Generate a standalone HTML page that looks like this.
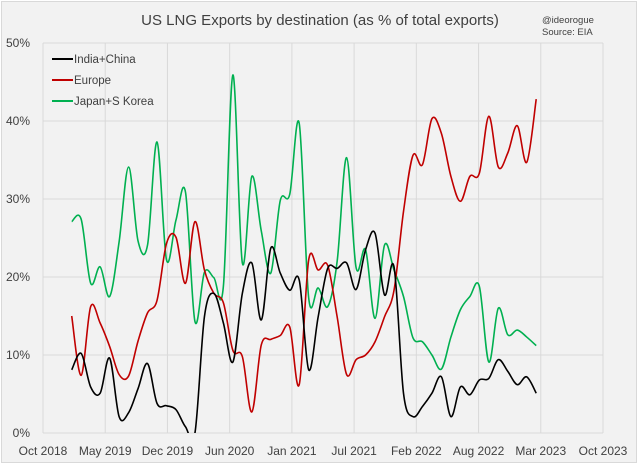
<!DOCTYPE html>
<html><head><meta charset="utf-8"><style>
body{margin:0;background:#fff;font-family:"Liberation Sans",Calibri,sans-serif}
svg text{font-family:"Liberation Sans",sans-serif}
</style></head><body>
<svg width="640" height="468" xmlns="http://www.w3.org/2000/svg">
<defs><clipPath id="plotclip"><rect x="43" y="40" width="560" height="393"/></clipPath></defs>
<rect x="1.5" y="1.5" width="635" height="461" fill="#f2f2f2" stroke="#d9d9d9"/>
<text x="320" y="25" text-anchor="middle" font-size="15" fill="#404040">US LNG Exports by destination (as % of total exports)</text>
<text x="542" y="23" font-size="9.5" fill="#404040">@ideorogue</text>
<text x="542" y="35" font-size="9.5" fill="#404040">Source: EIA</text>
<g id="grid"></g><g id="axes"></g><g id="series" clip-path="url(#plotclip)"></g>
<g>
<line x1="52" y1="59" x2="73" y2="59" stroke="#000" stroke-width="2"/><text x="74" y="63" font-size="11.5" fill="#404040">India+China</text>
<line x1="52" y1="80" x2="73" y2="80" stroke="#c00000" stroke-width="2"/><text x="74" y="84" font-size="11.5" fill="#404040">Europe</text>
<line x1="52" y1="101" x2="73" y2="101" stroke="#00b050" stroke-width="2"/><text x="74" y="105" font-size="11.5" fill="#404040">Japan+S Korea</text>
</g>
</svg>
<script>
const xLabels=["Oct 2018","May 2019","Dec 2019","Jun 2020","Jan 2021","Jul 2021","Feb 2022","Aug 2022","Mar 2023","Oct 2023"];
const yTicks=[0,10,20,30,40,50];
const indiaChina=[8.1,10.2,5.9,5.1,9.6,2.1,2.6,5.7,8.9,3.8,3.5,3.0,0.8,0,14.9,17.9,14.1,9.1,17.9,21.8,14.5,23.7,20.5,18.3,19.6,8.1,14.9,21.1,21.1,21.8,18.4,23.5,25.6,17.7,21.3,5.1,2.1,3.4,5.1,7.2,2.1,5.9,4.9,6.8,7.0,9.4,7.9,6.2,7.2,5.1];
const europe=[15.0,7.4,16.2,14.1,11.1,7.5,7.3,11.8,15.4,17.0,24.3,25.1,19.2,27.1,20.9,17.9,16.7,10.6,9.8,2.7,11.3,12.0,12.5,13.6,6.2,22.2,20.9,21.5,14.9,7.5,9.4,10.0,11.7,14.9,18.3,28.4,35.6,34.4,40.3,38.4,32.9,29.7,32.9,33.3,40.6,34.1,35.9,39.4,34.7,42.8];
const japanKorea=[27.1,27.4,19.2,21.3,17.5,24.5,34.1,24.6,24.1,37.3,22.2,27.3,30.9,14.3,20.6,19.9,18.8,45.9,21.8,32.9,25.9,20.5,29.8,30.6,39.7,17.3,18.6,16.2,22,35.3,21.2,23.5,14.7,24.1,20.9,17.5,12.2,11.7,10.0,8.2,12.3,15.8,17.5,18.8,9.1,16.0,12.6,13.2,12.3,11.2];
const L=43,R=603,T=43,B=433;
const y=v=>B-(v/50)*(B-T);
const xi=i=>71.7+i*9.48;
const xg=k=>L+k*(R-L)/(xLabels.length-1);
const NS="http://www.w3.org/2000/svg";
function mk(t,a,p){const e=document.createElementNS(NS,t);for(const k in a)e.setAttribute(k,a[k]);p.appendChild(e);return e;}
const grid=document.getElementById('grid'),axes=document.getElementById('axes'),ser=document.getElementById('series');
yTicks.forEach(v=>{
 const g=mk('line',{x1:L,x2:R,y1:y(v),y2:y(v),stroke:'#d9d9d9','stroke-width':1},grid);
 
 
 const t=mk('text',{x:30,y:y(v)+4,'text-anchor':'end','font-size':12,fill:'#404040'},axes);
 t.textContent=v+'%';
 
 
});
xLabels.forEach((s,k)=>{
 const g=mk('line',{x1:xg(k),x2:xg(k),y1:T,y2:B,stroke:'#d9d9d9','stroke-width':1},grid);
 
 
 const t=mk('text',{x:xg(k),y:455,'text-anchor':'middle','font-size':12,fill:'#404040'},axes);
 t.textContent=s;
 
 
});
function path(d){
 const p=d.map((v,i)=>[xi(i),y(v)]);
 let s='M'+p[0][0]+','+p[0][1];
 for(let i=0;i<p.length-1;i++){
  const p0=p[i-1]||p[i],p1=p[i],p2=p[i+1],p3=p[i+2]||p2;
  const c1=[p1[0]+(p2[0]-p0[0])/6,p1[1]+(p2[1]-p0[1])/6];
  const c2=[p2[0]-(p3[0]-p1[0])/6,p2[1]-(p3[1]-p1[1])/6];
  s+=' C'+c1+' '+c2+' '+p2;
 }
 return s;
}
[[japanKorea,'#00b050','line-japan-korea'],[europe,'#c00000','line-europe'],[indiaChina,'#000000','line-india-china']].forEach(([d,c,n])=>{
 const e=mk('path',{d:path(d),fill:'none',stroke:c,'stroke-width':1.6},ser);
 
 
});
</script>
</body></html>
